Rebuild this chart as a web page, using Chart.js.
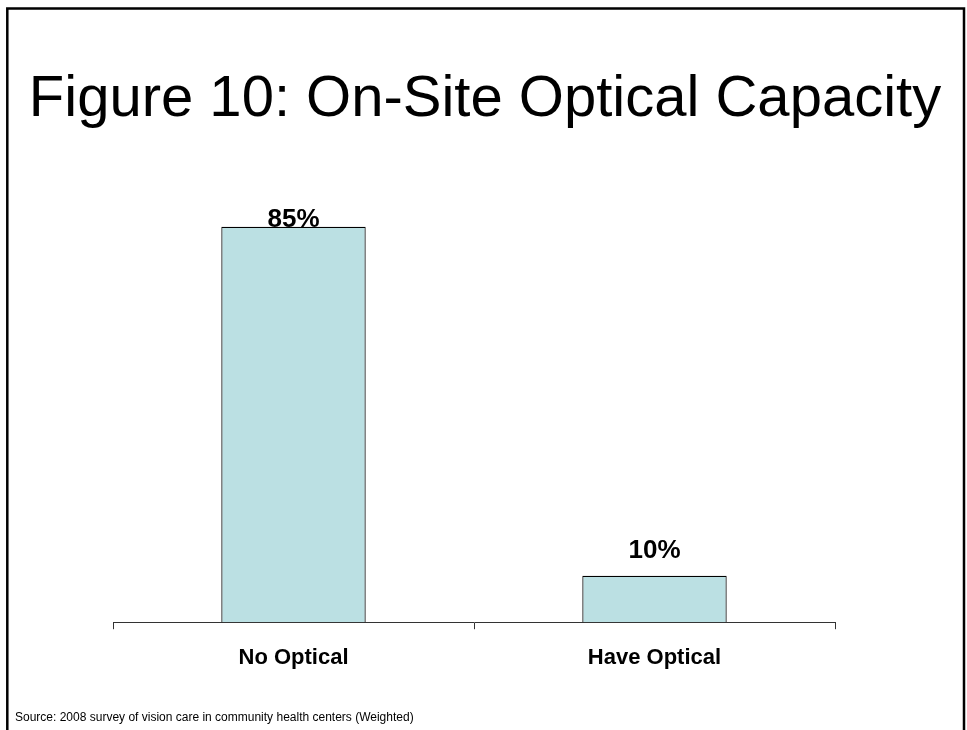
<!DOCTYPE html>
<html>
<head>
<meta charset="utf-8">
<script src="https://cdn.jsdelivr.net/npm/chart.js@4"></script>
<style>
  html, body { margin: 0; padding: 0; background: #fff; }
  #wrap { width: 967px; height: 730px; }
</style>
</head>
<body>
<div id="wrap"><canvas id="chart" width="967" height="730"></canvas></div>
<script>
const categories = ['No Optical', 'Have Optical'];
const percentages = [85, 10];
const titleText = 'Figure 10: On-Site Optical Capacity';
const sourceText = 'Source: 2008 survey of vision care in community health centers (Weighted)';

Chart.defaults.font.family = 'Arial, "Liberation Sans", sans-serif';
Chart.defaults.color = '#000';

// percent labels above each bar (kept inside the plot area like the original)
const barLabels = {
  id: 'barLabels',
  afterDatasetsDraw(chart) {
    const ctx = chart.ctx;
    const meta = chart.getDatasetMeta(0);
    ctx.save();
    ctx.font = 'bold 26px Arial, "Liberation Sans", sans-serif';
    ctx.fillStyle = '#000';
    ctx.textAlign = 'center';
    ctx.textBaseline = 'alphabetic';
    meta.data.forEach((bar, i) => {
      const y = Math.max(bar.y - 18, chart.chartArea.top + 23);
      ctx.fillText(percentages[i] + '%', bar.x, y);
    });
    ctx.restore();
  }
};

// slide frame: top, left and right edges
const frame = {
  id: 'frame',
  afterDraw(chart) {
    const ctx = chart.ctx;
    ctx.save();
    ctx.strokeStyle = '#000';
    ctx.lineWidth = 2.5;
    ctx.beginPath();
    ctx.moveTo(7.3, 730);
    ctx.lineTo(7.3, 8.5);
    ctx.lineTo(964, 8.5);
    ctx.lineTo(964, 730);
    ctx.stroke();
    ctx.restore();
  }
};

new Chart(document.getElementById('chart'), {
  type: 'bar',
  data: {
    labels: categories,
    datasets: [{
      data: percentages,
      backgroundColor: '#BBE0E3',
      borderColor: '#000',
      borderWidth: 1.2,
      categoryPercentage: 1,
      barPercentage: 0.4
    }]
  },
  options: {
    responsive: false,
    animation: false,
    layout: { padding: { left: 15, right: 12, top: 0, bottom: 4 } },
    plugins: {
      legend: { display: false },
      tooltip: { enabled: false },
      title: {
        display: true,
        text: titleText,
        font: { size: 58, weight: 'normal' },
        color: '#000',
        padding: { top: 65, bottom: 69 }
      },
      subtitle: {
        display: true,
        text: sourceText,
        position: 'bottom',
        align: 'start',
        font: { size: 12, weight: 'normal' },
        color: '#000',
        padding: { top: 23, bottom: 1 }
      }
    },
    scales: {
      x: {
        grid: {
          offset: true,
          drawOnChartArea: false,
          drawTicks: true,
          tickLength: 7,
          color: '#333'
        },
        border: { color: '#333', width: 1 },
        ticks: {
          font: { size: 22, weight: 'bold' },
          color: '#000',
          padding: 16
        }
      },
      y: {
        min: 0,
        max: 90,
        grid: { display: false },
        border: { display: false },
        ticks: { display: false },
        afterFit(scale) { scale.width = 98; }
      },
      yRight: {
        position: 'right',
        grid: { display: false },
        border: { display: false },
        ticks: { display: false },
        afterFit(scale) { scale.width = 120; }
      }
    }
  },
  plugins: [barLabels, frame]
});
</script>
</body>
</html>
